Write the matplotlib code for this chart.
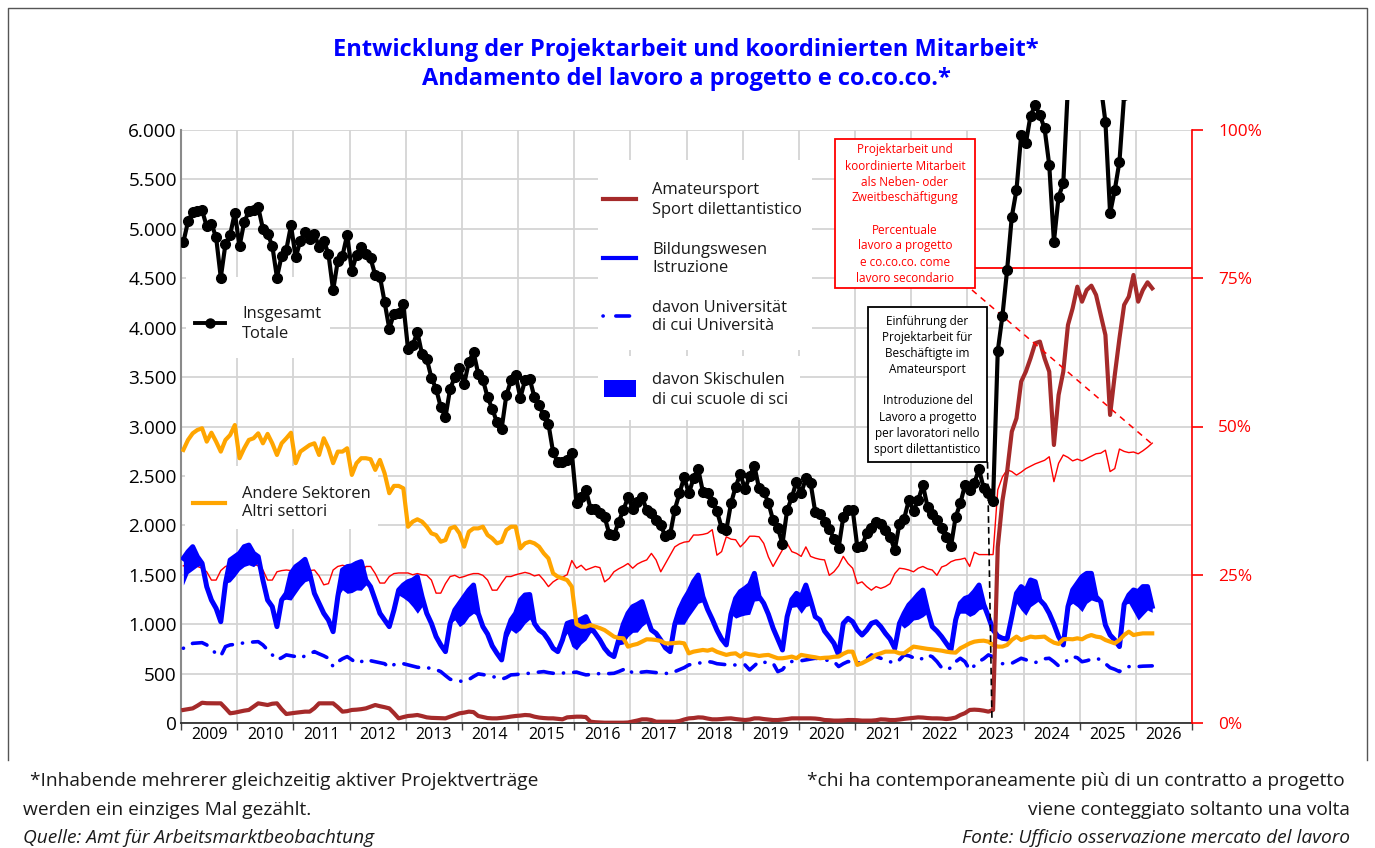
import numpy as np
import matplotlib
matplotlib.use("Agg")
import matplotlib.pyplot as plt
from matplotlib.patches import Rectangle
from matplotlib.lines import Line2D
from matplotlib.transforms import Bbox, TransformedBbox, Affine2D
from matplotlib.ticker import FixedLocator, FuncFormatter

plt.rcParams['font.family'] = ['Open Sans', 'DejaVu Sans']

years = list(range(2009, 2027))

# ---------------- data (monthly, Jan 2009 - Apr 2026) ----------------
total = [
    4864, 5075, 5170, 5177, 5187, 5024, 5051, 4915, 4507, 4847, 4939, 5163,
    4823, 5068, 5177, 5187, 5218, 5000, 4949, 4830, 4507, 4728, 4789, 5034,
    4711, 4881, 4973, 4898, 4949, 4813, 4881, 4745, 4378, 4677, 4728, 4939,
    4575, 4735, 4813, 4745, 4701, 4531, 4517, 4259, 3990, 4140, 4150, 4236,
    3787, 3821, 3956, 3730, 3686, 3493, 3382, 3196, 3095, 3382, 3500, 3595,
    3433, 3652, 3753, 3534, 3473, 3297, 3179, 3044, 2976, 3314, 3466, 3517,
    3291, 3466, 3483, 3297, 3213, 3112, 3027, 2740, 2639, 2639, 2656, 2730,
    2229, 2290, 2357, 2170, 2170, 2126, 2085, 1915, 1898, 2034, 2153, 2282,
    2170, 2238, 2289, 2153, 2126, 2051, 2000, 1888, 1908, 2160, 2323, 2486,
    2323, 2476, 2568, 2340, 2323, 2238, 2146, 1976, 1949, 2221, 2391, 2520,
    2364, 2500, 2602, 2374, 2340, 2228, 2051, 1976, 1813, 2153, 2282, 2442,
    2323, 2476, 2432, 2136, 2119, 2034, 1966, 1864, 1772, 2085, 2160, 2160,
    1779, 1786, 1922, 1976, 2034, 2010, 1949, 1881, 1752, 2017, 2068, 2255,
    2146, 2255, 2408, 2187, 2119, 2051, 1976, 1881, 1786, 2085, 2221, 2408,
    2357, 2432, 2568, 2374, 2323, 2248, 3764, 4121, 4584, 5123, 5393, 5950,
    5865, 6145, 6250, 6150, 6017, 5646, 4870, 5326, 5460, 6450, 6600, 6800,
    6650, 6750, 6800, 6700, 6450, 6084, 5157, 5393, 5680, 6350, 6450, 6700,
    6550, 6650, 6700, 6650]

amateur = [
    132, 140, 148, 175, 205, 200, 199, 199, 199, 150, 98, 105,
    115, 125, 132, 165, 199, 190, 182, 195, 199, 140, 91, 98,
    104, 110, 115, 115, 150, 199, 199, 199, 199, 160, 115, 120,
    132, 135, 140, 148, 165, 182, 170, 160, 148, 100, 47, 60,
    71, 75, 81, 70, 57, 52, 50, 47, 47, 64, 80, 98,
    105, 115, 110, 71, 60, 50, 47, 47, 52, 57, 65, 71,
    75, 81, 78, 64, 55, 50, 47, 47, 42, 37, 57, 60,
    64, 64, 60, 13, 8, 5, 3, 3, 3, 3, 3, 5,
    15, 25, 37, 37, 30, 13, 13, 13, 13, 13, 20, 35,
    47, 50, 57, 55, 45, 37, 37, 40, 45, 47, 40, 35,
    30, 35, 47, 47, 40, 35, 30, 30, 35, 40, 47, 47,
    47, 47, 47, 45, 40, 30, 28, 24, 24, 26, 30, 30,
    28, 24, 24, 24, 28, 37, 35, 30, 30, 35, 42, 47,
    52, 57, 55, 50, 47, 47, 45, 40, 45, 55, 81, 100,
    132, 135, 132, 125, 115, 132, 1780, 2250, 2543, 2948, 3083, 3454,
    3555, 3690, 3842, 3859, 3690, 3555, 2813, 3319, 3555, 4027, 4196, 4415,
    4263, 4381, 4425, 4331, 4128, 3926, 3117, 3521, 3892, 4230, 4314, 4533,
    4263, 4381, 4459, 4398]

education = [
    1666, 1733, 1784, 1683, 1616, 1379, 1244, 1160, 1025, 1413, 1649, 1683,
    1717, 1784, 1800, 1717, 1683, 1446, 1244, 1177, 975, 1244, 1312, 1514,
    1582, 1616, 1656, 1514, 1312, 1211, 1110, 1042, 924, 1278, 1548, 1582,
    1590, 1616, 1633, 1446, 1379, 1244, 1110, 1042, 975, 1143, 1345, 1396,
    1430, 1446, 1480, 1278, 1110, 1008, 874, 790, 722, 1008, 1143, 1211,
    1278, 1345, 1396, 1110, 975, 900, 780, 705, 638, 907, 1042, 1110,
    1244, 1295, 1300, 1008, 941, 907, 840, 756, 722, 840, 1008, 1025,
    1025, 1050, 1076, 975, 907, 840, 756, 700, 672, 840, 1000, 1110,
    1177, 1200, 1228, 1076, 941, 907, 840, 760, 722, 1000, 1150, 1250,
    1329, 1430, 1497, 1278, 1150, 1050, 940, 850, 790, 1100, 1261, 1330,
    1362, 1400, 1514, 1280, 1211, 1100, 960, 850, 739, 1076, 1250, 1312,
    1278, 1396, 1244, 1076, 1042, 930, 870, 806, 689, 1008, 1059, 1025,
    941, 890, 940, 1008, 1025, 975, 907, 850, 756, 1008, 1110, 1194,
    1244, 1300, 1345, 1143, 975, 930, 874, 806, 739, 1042, 1211, 1261,
    1278, 1330, 1396, 1200, 1076, 941, 880, 857, 850, 1076, 1312, 1380,
    1340, 1447, 1430, 1245, 1194, 1110, 1000, 874, 790, 1177, 1346, 1413,
    1481, 1514, 1514, 1278, 1228, 991, 890, 840, 773, 1200, 1295, 1346,
    1329, 1380, 1380, 1180]

ski = [
    270, 220, 236, 100, 15, 0, 0, 0, 0, 0, 220, 200,
    170, 200, 200, 135, 60, 0, 0, 0, 0, 0, 60, 270,
    270, 237, 226, 68, 0, 0, 0, 0, 0, 0, 200, 270,
    270, 270, 290, 50, 0, 0, 0, 0, 0, 0, 50, 130,
    200, 270, 370, 100, 0, 0, 0, 0, 0, 0, 100, 236,
    270, 270, 286, 30, 0, 0, 0, 0, 0, 60, 100, 203,
    300, 287, 250, 30, 0, 0, 0, 0, 0, 0, 100, 250,
    286, 250, 236, 60, 0, 0, 0, 0, 0, 50, 200, 236,
    260, 280, 250, 60, 0, 0, 0, 0, 0, 0, 150, 250,
    253, 287, 286, 50, 0, 0, 0, 0, 0, 0, 200, 250,
    269, 300, 280, 40, 0, 0, 0, 0, 0, 0, 80, 135,
    168, 219, 50, 0, 0, 0, 0, 0, 0, 0, 0, 0,
    0, 0, 0, 0, 0, 0, 0, 0, 0, 0, 150, 200,
    202, 250, 270, 30, 0, 0, 0, 0, 0, 0, 100, 150,
    200, 230, 250, 40, 0, 0, 0, 0, 0, 0, 100, 237,
    250, 270, 220, 0, 0, 0, 0, 0, 0, 0, 135, 236,
    354, 303, 269, 50, 0, 0, 0, 0, 0, 0, 84, 219,
    287, 287, 237, 60]

university = [
    756, 780, 806, 810, 813, 790, 750, 700, 678, 773, 790, 795,
    800, 813, 815, 820, 823, 790, 739, 690, 638, 660, 689, 680,
    672, 655, 680, 700, 722, 700, 680, 655, 571, 620, 650, 672,
    640, 605, 620, 645, 630, 620, 611, 600, 560, 590, 605, 600,
    588, 575, 564, 560, 558, 554, 540, 520, 480, 443, 430, 425,
    419, 440, 470, 497, 490, 480, 470, 460, 443, 460, 487, 490,
    495, 500, 503, 510, 515, 520, 510, 503, 503, 505, 508, 510,
    515, 500, 487, 490, 497, 500, 503, 500, 503, 520, 540, 554,
    503, 510, 515, 520, 515, 510, 505, 503, 500, 520, 540, 560,
    588, 595, 605, 612, 622, 615, 600, 595, 590, 585, 588, 590,
    588, 537, 580, 622, 615, 610, 605, 520, 540, 600, 622, 625,
    630, 638, 645, 655, 650, 640, 630, 622, 571, 600, 622, 615,
    605, 620, 650, 689, 672, 655, 640, 620, 605, 640, 689, 680,
    660, 638, 655, 689, 670, 622, 560, 537, 560, 620, 655, 620,
    537, 580, 622, 650, 689, 670, 620, 600, 610, 604, 630, 655,
    640, 620, 611, 630, 650, 655, 620, 578, 600, 640, 672, 660,
    620, 630, 645, 655, 640, 600, 560, 543, 520, 554, 570, 575,
    571, 575, 576, 578]

other = [
    2763, 2864, 2931, 2965, 2982, 2847, 2937, 2847, 2746, 2864, 2914, 3015,
    2679, 2780, 2864, 2881, 2931, 2830, 2925, 2830, 2712, 2830, 2881, 2937,
    2629, 2746, 2780, 2813, 2830, 2712, 2881, 2780, 2629, 2746, 2746, 2780,
    2510, 2629, 2679, 2679, 2669, 2561, 2662, 2527, 2325, 2399, 2399, 2375,
    1986, 2037, 2061, 2037, 1986, 1919, 1902, 1834, 1851, 1969, 1986, 1919,
    1784, 1935, 1969, 1969, 1986, 1902, 1868, 1818, 1834, 1952, 1986, 1986,
    1767, 1818, 1834, 1818, 1784, 1717, 1666, 1514, 1480, 1463, 1446, 1379,
    1000, 975, 975, 991, 975, 960, 940, 907, 874, 860, 857, 773,
    789, 800, 823, 847, 845, 840, 830, 806, 806, 810, 813, 806,
    705, 722, 730, 739, 732, 745, 720, 705, 689, 700, 705, 672,
    705, 695, 689, 678, 685, 689, 672, 655, 655, 662, 672, 655,
    689, 680, 672, 665, 655, 660, 662, 670, 672, 700, 722, 722,
    588, 605, 630, 655, 690, 705, 722, 722, 722, 705, 705, 740,
    773, 765, 756, 750, 745, 738, 732, 722, 715, 712, 756, 780,
    806, 823, 830, 833, 823, 789, 773, 773, 790, 840, 874, 840,
    857, 874, 867, 870, 874, 840, 813, 800, 847, 850, 847, 857,
    847, 874, 890, 874, 867, 840, 823, 806, 840, 890, 924, 890,
    900, 907, 907, 907]

secondary_pct = [
    26.5, 26.8, 26.6, 26.4, 26.1, 25.5, 24.1, 24.1, 25.7, 26.4, 26.6, 26.8,
    27.0, 27.2, 27.0, 26.8, 26.5, 25.8, 24.1, 24.1, 25.5, 25.7, 25.8, 25.7,
    25.7, 25.8, 25.8, 25.7, 25.8, 24.8, 23.3, 23.5, 25.8, 26.4, 26.6, 26.4,
    26.1, 25.8, 24.9, 26.4, 26.4, 25.2, 23.6, 23.6, 24.7, 25.2, 25.3, 25.3,
    25.3, 25.0, 25.2, 25.0, 24.9, 24.1, 21.9, 21.9, 23.5, 24.7, 24.9, 24.5,
    24.7, 25.0, 25.2, 25.2, 24.9, 24.1, 22.4, 22.4, 23.6, 24.7, 24.7, 25.0,
    25.2, 25.4, 25.2, 24.8, 25.0, 24.1, 23.0, 23.8, 24.3, 24.6, 25.0, 27.4,
    26.1, 26.6, 25.8, 26.1, 26.4, 26.2, 23.8, 24.4, 25.5, 26.0, 26.4, 26.9,
    26.1, 26.8, 27.2, 27.5, 28.6, 27.5, 25.5, 26.9, 28.3, 29.7, 30.2, 30.5,
    30.6, 31.7, 31.7, 31.8, 32.0, 32.6, 28.3, 28.9, 31.4, 31.0, 30.9, 29.7,
    30.5, 31.5, 31.5, 31.4, 30.3, 28.0, 26.4, 27.8, 29.2, 30.3, 28.9, 28.6,
    28.1, 29.7, 28.1, 27.8, 27.6, 27.5, 24.9, 25.5, 26.5, 28.1, 26.9, 26.1,
    23.5, 23.8, 23.0, 22.4, 23.0, 22.7, 23.0, 23.5, 25.2, 26.1, 26.0, 25.8,
    25.5, 26.1, 26.4, 26.0, 25.8, 24.9, 26.3, 26.6, 27.2, 27.5, 27.6, 27.8,
    26.4, 28.8, 28.4, 28.4, 28.4, 28.4, 39.3, 41.5, 42.7, 42.4, 41.8, 42.3,
    42.9, 43.3, 43.7, 44.0, 44.3, 44.9, 40.7, 43.8, 45.2, 44.8, 44.2, 44.5,
    44.2, 44.6, 45.0, 45.4, 45.5, 46.0, 42.4, 42.9, 46.2, 45.8, 45.6, 45.7,
    45.4, 45.9, 46.5, 47.2]

y_ticks_left = [0, 500, 1000, 1500, 2000, 2500, 3000, 3500, 4000, 4500, 5000, 5500, 6000]
y_ticks_right = [0, 25, 50, 75, 100]

# ---------------- figure ----------------
W, H = 1375, 848
fig = plt.figure(figsize=(W / 100, H / 100), dpi=100)
fig.patch.set_facecolor('white')
T = Affine2D().scale(1 / W, -1 / H).translate(0, 1) + fig.transFigure  # pixel coords, top-left origin

L, R, TOP, BOT = 181, 1192, 130, 723
ax = fig.add_axes([L / W, 1 - BOT / H, (R - L) / W, (BOT - TOP) / H])
ax2 = ax.twinx()

n_months = 12 * len(years)


def xs(s):
    return np.arange(len(s)) + 0.5


ax.set_xlim(0, n_months)
ax.set_ylim(0, 6000)
ax2.set_ylim(0, 100)

# axes styling
ax.set_axisbelow(True)
ax.xaxis.set_major_locator(FixedLocator(np.arange(0, n_months + 1, 12)))
ax.xaxis.set_minor_locator(FixedLocator(np.arange(6, n_months, 12)))
ax.xaxis.set_major_formatter(FuncFormatter(lambda v, p: ''))
ax.xaxis.set_minor_formatter(FuncFormatter(lambda v, p: str(years[int(v // 12)])))
ax.tick_params(axis='x', which='major', length=5, width=1, color='#404040', direction='out')
ax.tick_params(axis='x', which='minor', length=0, pad=3, labelsize=11.5)
ax.yaxis.set_major_locator(FixedLocator(y_ticks_left))
ax.yaxis.set_major_formatter(FuncFormatter(lambda v, p: f'{int(v):,}'.replace(',', '.')))
ax.tick_params(axis='y', length=0, pad=3, labelsize=13.7)
ax.grid(True, which='major', color='#d4d4d4', lw=1.3)
for s in ['top', 'right']:
    ax.spines[s].set_visible(False)
ax.spines['left'].set_color('#8a8a8a')
ax.spines['left'].set_linewidth(1.5)
ax.spines['bottom'].set_color('#222222')
ax.spines['bottom'].set_linewidth(1.2)

for s in ['top', 'left', 'bottom']:
    ax2.spines[s].set_visible(False)
ax2.spines['right'].set_color('red')
ax2.spines['right'].set_linewidth(1.2)
ax2.yaxis.set_major_locator(FixedLocator(y_ticks_right))
ax2.yaxis.set_major_formatter(FuncFormatter(lambda v, p: f'{int(v)}%'))
ax2.tick_params(axis='y', length=8, width=1.2, color='red', labelcolor='red', pad=11, labelsize=12.4)

# ---------------- series ----------------
ax.plot(xs(secondary_pct), secondary_pct, transform=ax2.transData, color='red', lw=1.0, zorder=2)
ax.plot(xs(university), university, color='blue', lw=2.6,
        ls=(0, (0.05, 2.8, 4.2, 2.8)), dash_capstyle='round', zorder=3)
edu = np.array(education, dtype=float)
sk = np.array(ski, dtype=float)
ax.fill_between(xs(edu), edu - sk, edu, color='blue', lw=0, zorder=4)
ax.plot(xs(edu), edu, color='blue', lw=3.6, zorder=4.5, solid_joinstyle='round')
ax.plot(xs(other), other, color='#FFA500', lw=3.0, zorder=5, solid_joinstyle='round')
ax.plot(xs(amateur), amateur, color='#A52A2A', lw=3.0, zorder=6, solid_joinstyle='round')
ln_tot, = ax.plot(xs(total), total, color='black', lw=3.0, marker='o', ms=7, zorder=8,
                  solid_joinstyle='round')
ln_tot.set_clip_box(TransformedBbox(Bbox([[0, 0], [1, 1 + 30 / 593]]), ax.transAxes))

ax.set_xlim(0, n_months)
ax.set_ylim(0, 6000)

# ---------------- legend boxes (white) ----------------
def wbox(x0, y0, x1, y1, z=1.5, ec='none', lw=0):
    ax.add_patch(Rectangle((x0, y0), x1 - x0, y1 - y0, transform=T, facecolor='white',
                           edgecolor=ec, lw=lw, zorder=z, clip_on=False))

wbox(186, 277, 330, 358)
wbox(185, 466, 378, 529)
wbox(598, 160, 812, 350)
wbox(598, 356, 800, 420)

TXT = '#1a1a1a'
LFS = 11.9


def legtext(x, y, s):
    fig.text(x, y, s, transform=T, ha='left', va='center', fontsize=LFS, color=TXT, linespacing=1.25)


# Insgesamt
ax.add_line(Line2D([195, 225], [323, 323], transform=T, color='black', lw=2.8,
                   clip_on=False, zorder=9))
ax.add_line(Line2D([210], [323], transform=T, color='black', marker='o', ms=6.5, ls='none',
                   clip_on=False, zorder=9))
legtext(242, 324, 'Insgesamt\nTotale')
# Andere Sektoren
ax.add_line(Line2D([193, 225], [503, 503], transform=T, color='#FFA500', lw=3.0, clip_on=False, zorder=9))
legtext(242, 503, 'Andere Sektoren\nAltri settori')
# right legend
ax.add_line(Line2D([603, 636], [199, 199], transform=T, color='#A52A2A', lw=3.0, clip_on=False, zorder=9))
legtext(652, 200, 'Amateursport\nSport dilettantistico')
ax.add_line(Line2D([603, 636], [258, 258], transform=T, color='blue', lw=3.0, clip_on=False, zorder=9))
legtext(652, 259, 'Bildungswesen\nIstruzione')
ax.add_line(Line2D([603, 634], [316, 316], transform=T, color='blue', lw=2.6,
                   ls=(0, (0.05, 3.5, 3.8, 2.8)), dash_capstyle='round', clip_on=False, zorder=9))
legtext(652, 317, 'davon Universität\ndi cui Università')
ax.add_patch(Rectangle((604, 380), 32, 17, transform=T, facecolor='blue', edgecolor='none',
                       clip_on=False, zorder=9))
legtext(652, 390, 'davon Skischulen\ndi cui scuole di sci')

# ---------------- annotations ----------------
wbox(835, 139, 975, 288, z=9, ec='red', lw=1.3)
fig.text(905, 214, 'Projektarbeit und\nkoordinierte Mitarbeit\nals Neben- oder\nZweitbeschäftigung\n\n'
         'Percentuale\nlavoro a progetto\ne co.co.co. come\nlavoro secondario',
         transform=T, ha='center', va='center', fontsize=8.5, color='red', linespacing=1.3)
ax.add_line(Line2D([975, 1191], [268, 268], transform=T, color='red', lw=1.3, clip_on=False, zorder=7))
ax.add_line(Line2D([972, 1152], [290, 444], transform=T, color='red', lw=1.1, ls=(0, (4, 3.5)),
                   clip_on=False, zorder=7))

wbox(868, 307, 987, 462, z=9, ec='black', lw=1.3)
fig.text(927.5, 385, 'Einführung der\nProjektarbeit für\nBeschäftigte im\nAmateursport\n\n'
         'Introduzione del\nLavoro a progetto\nper lavoratori nello\nsport dilettantistico',
         transform=T, ha='center', va='center', fontsize=8.5, color='black', linespacing=1.3)
ax.add_line(Line2D([987.5, 992], [462, 722], transform=T, color='black', lw=1.2, ls=(0, (4, 2.5)),
                   clip_on=False, zorder=7))

# ---------------- title ----------------
fig.text(686, 50, 'Entwicklung der Projektarbeit und koordinierten Mitarbeit*', transform=T,
         ha='center', va='center', fontsize=17, fontweight='bold', color='blue')
fig.text(686, 79, 'Andamento del lavoro a progetto e co.co.co.*', transform=T,
         ha='center', va='center', fontsize=17, fontweight='bold', color='blue')

# ---------------- footnotes ----------------
FFS = 13.8
fig.text(30, 781, '*Inhabende mehrerer gleichzeitig aktiver Projektverträge', transform=T,
         ha='left', va='center', fontsize=FFS, color=TXT)
fig.text(23, 810, 'werden ein einziges Mal gezählt.', transform=T, ha='left', va='center',
         fontsize=FFS, color=TXT)
fig.text(23, 838, 'Quelle: Amt für Arbeitsmarktbeobachtung', transform=T, ha='left', va='center',
         fontsize=FFS, color=TXT, style='italic')
fig.text(1345, 781, '*chi ha contemporaneamente più di un contratto a progetto', transform=T,
         ha='right', va='center', fontsize=FFS, color=TXT)
fig.text(1350, 810, 'viene conteggiato soltanto una volta', transform=T, ha='right', va='center',
         fontsize=FFS, color=TXT)
fig.text(1350, 838, 'Fonte: Ufficio osservazione mercato del lavoro', transform=T, ha='right',
         va='center', fontsize=FFS, color=TXT, style='italic')

# frame
fig.add_artist(Line2D([8, 8, 1367, 1367], [760, 8, 8, 760], transform=T, color='#555555', lw=1.0))

fig.savefig('out.png', dpi=100, facecolor='white')
